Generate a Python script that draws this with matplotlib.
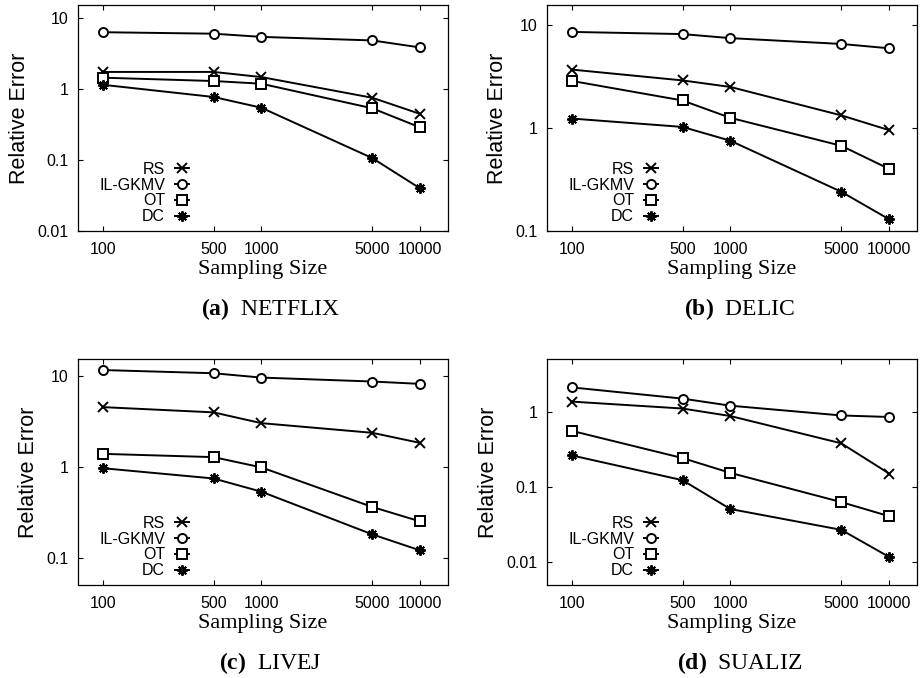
import numpy as np
import matplotlib
matplotlib.use('Agg')
import matplotlib.pyplot as plt
from matplotlib.ticker import NullLocator

plt.rcParams['font.family'] = 'Liberation Sans'
plt.rcParams['mathtext.fontset'] = 'custom'
plt.rcParams['mathtext.rm'] = 'Liberation Serif'
plt.rcParams['mathtext.bf'] = 'Liberation Serif:bold'

# Sampling sizes (x axis)
sizes = [100, 500, 1000, 5000, 10000]
size_labels = ['100', '500', '1000', '5000', '10000']
methods = ['RS', 'IL-GKMV', 'OT', 'DC']

# Relative error per dataset, one list per method
netflix_rs = [1.76, 1.76, 1.49, 0.76, 0.45]
netflix_ilgkmv = [6.4, 6.1, 5.5, 4.9, 3.9]
netflix_ot = [1.46, 1.31, 1.2, 0.54, 0.29]
netflix_dc = [1.16, 0.78, 0.55, 0.107, 0.040]

delic_rs = [3.67, 2.88, 2.49, 1.32, 0.95]
delic_ilgkmv = [8.5, 8.1, 7.4, 6.5, 5.9]
delic_ot = [2.85, 1.84, 1.25, 0.67, 0.40]
delic_dc = [1.23, 1.02, 0.75, 0.24, 0.13]

livej_rs = [4.5, 3.94, 3.0, 2.35, 1.82]
livej_ilgkmv = [11.5, 10.6, 9.5, 8.6, 8.1]
livej_ot = [1.38, 1.27, 0.98, 0.36, 0.25]
livej_dc = [0.96, 0.74, 0.53, 0.18, 0.12]

sualiz_rs = [1.36, 1.1, 0.875, 0.38, 0.151]
sualiz_ilgkmv = [2.1, 1.49, 1.2, 0.89, 0.85]
sualiz_ot = [0.557, 0.242, 0.154, 0.063, 0.041]
sualiz_dc = [0.263, 0.123, 0.051, 0.027, 0.0118]

panels = [
    ('a', 'NETFLIX', [netflix_rs, netflix_ilgkmv, netflix_ot, netflix_dc], (0.01, 15.5), [0.01, 0.1, 1, 10], ['0.01', '0.1', '1', '10']),
    ('b', 'DELIC', [delic_rs, delic_ilgkmv, delic_ot, delic_dc], (0.1, 15.5), [0.1, 1, 10], ['0.1', '1', '10']),
    ('c', 'LIVEJ', [livej_rs, livej_ilgkmv, livej_ot, livej_dc], (0.05, 15.2), [0.1, 1, 10], ['0.1', '1', '10']),
    ('d', 'SUALIZ', [sualiz_rs, sualiz_ilgkmv, sualiz_ot, sualiz_dc], (0.005, 5.0), [0.01, 0.1, 1], ['0.01', '0.1', '1']),
]

markers = ['x', 'o', 's', (8, 2, 0)]
msizes = [6.5, 6.5, 6.5, 7.5]

fig = plt.figure(figsize=(9.23, 6.78), dpi=100)
W, H = 923, 678
boxes = [(78, 5), (547, 5), (78, 359), (547, 359)]
bw, bh = 370, 226

for (letter, name, series, ylim, yt, ytl), (px, py) in zip(panels, boxes):
    ax = fig.add_axes([px / W, 1 - (py + bh) / H, bw / W, bh / H])
    for vals, lab, mk, ms in zip(series, methods, markers, msizes):
        ax.plot(sizes, vals, color='black', lw=1.4, marker=mk, ms=ms,
                mew=1.4, mfc='white', mec='black', label=lab)
    ax.set_xscale('log')
    ax.set_yscale('log')
    ax.set_xlim(70, 15000)
    ax.set_ylim(*ylim)
    ax.set_xticks(sizes)
    ax.set_xticklabels(size_labels)
    ax.set_yticks(yt)
    ax.set_yticklabels(ytl)
    ax.xaxis.set_minor_locator(NullLocator())
    ax.yaxis.set_minor_locator(NullLocator())
    ax.tick_params(which='both', direction='in', top=True, right=True,
                   length=3.5, width=0.8, labelsize=11.5)
    ax.tick_params(axis='x', pad=8)
    ax.tick_params(axis='y', pad=7)
    for sp in ax.spines.values():
        sp.set_linewidth(0.9)
    ax.set_xlabel('Sampling Size', family='Liberation Serif', fontsize=16, labelpad=2)
    ax.set_ylabel('Relative Error', fontsize=15.5, labelpad=5)
    ax.legend(loc='lower right', bbox_to_anchor=(0.3, 0.03), frameon=False,
              markerfirst=False, fontsize=11.5, numpoints=1, borderpad=0,
              borderaxespad=0, handlelength=0.85, handletextpad=0.65,
              labelspacing=0.05)
    ax.text(0.52, -0.345, r'$\mathbf{(%s)}$' % letter + '  ' + name,
            transform=ax.transAxes, ha='center', va='center',
            family='Liberation Serif', fontsize=17)

fig.savefig('out.png', dpi=100)
